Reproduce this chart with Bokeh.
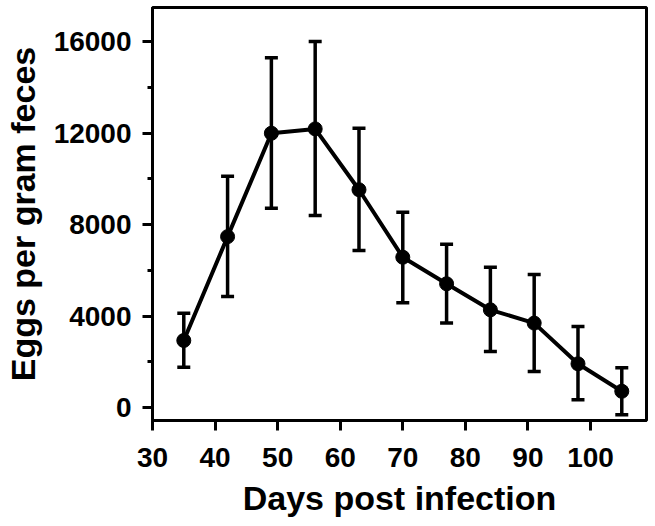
from bokeh.plotting import figure
from bokeh.models import ColumnDataSource, Whisker, TeeHead, FixedTicker, SingleIntervalTicker
from bokeh.embed import file_html
from bokeh.resources import INLINE

days = [35, 42, 49, 56, 63, 70, 77, 84, 91, 98, 105]
eggs = [2930, 7470, 11990, 12180, 9520, 6570, 5410, 4270, 3690, 1910, 710]
upper = [4120, 10110, 15290, 16000, 12210, 8540, 7140, 6130, 5810, 3540, 1740]
lower = [1760, 4850, 8710, 8390, 6860, 4580, 3690, 2450, 1570, 340, -320]
x_ticks = [30, 40, 50, 60, 70, 80, 90, 100]

FONT = "Liberation Sans"

src = ColumnDataSource(dict(days=days, eggs=eggs, upper=upper, lower=lower))

p = figure(width=655, height=526, x_range=(30, 108.95), y_range=(-568, 17487),
           output_backend="svg", toolbar_location=None,
           min_border_left=152, min_border_right=9, min_border_top=7, min_border_bottom=106)

p.background_fill_color = "white"
p.border_fill_color = "white"
p.outline_line_color = "black"
p.outline_line_width = 3
p.xgrid.visible = False
p.ygrid.visible = False

p.xaxis.ticker = FixedTicker(ticks=x_ticks)
p.yaxis.ticker = SingleIntervalTicker(interval=4000, num_minor_ticks=2)

for ax in (p.xaxis[0], p.yaxis[0]):
    ax.axis_line_color = "black"
    ax.axis_line_width = 3
    ax.major_tick_line_color = "black"
    ax.major_tick_line_width = 3
    ax.major_tick_out = 10
    ax.major_tick_in = 0
    ax.minor_tick_line_color = "black"
    ax.minor_tick_line_width = 3
    ax.minor_tick_out = 5
    ax.minor_tick_in = 0
    ax.major_label_text_font = FONT
    ax.major_label_text_font_style = "bold"
    ax.major_label_text_font_size = "28px"
    ax.major_label_text_color = "black"
    ax.axis_label_text_font = FONT
    ax.axis_label_text_font_style = "bold"
    ax.axis_label_text_font_size = "34px"
    ax.axis_label_text_color = "black"

p.xaxis.minor_tick_line_color = None
p.xaxis.axis_label = "Days post infection"
p.yaxis.axis_label = "Eggs per gram feces"
p.xaxis.major_label_standoff = 17
p.yaxis.major_label_standoff = 11
p.xaxis.axis_label_standoff = 9
p.yaxis.axis_label_standoff = 9

w = Whisker(source=src, base="days", upper="upper", lower="lower",
            line_color="black", line_width=3.5,
            upper_head=TeeHead(size=13, line_width=3.5, line_color="black"),
            lower_head=TeeHead(size=13, line_width=3.5, line_color="black"))
p.add_layout(w)

p.line("days", "eggs", source=src, line_color="black", line_width=4)
p.scatter("days", "eggs", source=src, size=14, fill_color="black", line_color="black")

open("out.html", "w").write(file_html(p, INLINE))
